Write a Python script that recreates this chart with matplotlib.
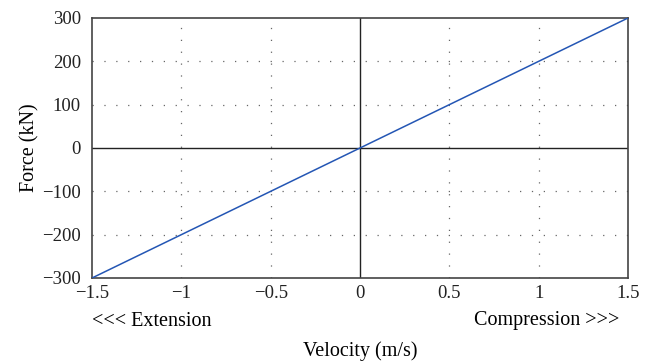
import matplotlib
matplotlib.use("Agg")
import matplotlib.pyplot as plt

# --- Data ---
velocity = [-1.5, 0.0, 1.5]      # m/s
force = [-300.0, 0.0, 300.0]     # kN
x_ticks = [-1.5, -1, -0.5, 0, 0.5, 1, 1.5]
x_labels = ["\u22121.5", "\u22121", "\u22120.5", "0", "0.5", "1", "1.5"]
y_ticks = [-300, -200, -100, 0, 100, 200, 300]
y_labels = ["\u2212300", "\u2212200", "\u2212100", "0", "100", "200", "300"]

plt.rcParams['font.family'] = ['Liberation Serif', 'DejaVu Serif']
FS = 13.5      # tick labels
LFS = 14.5     # axis / side labels

fig = plt.figure(figsize=(6.54, 3.63), dpi=100)
W, H = 654, 363
ax = fig.add_axes([92 / W, 1 - 278 / H, (628 - 92) / W, (278 - 18) / H])

# dotted grid, solid zero lines
for xv in [-1, -0.5, 0.5, 1]:
    ax.axvline(xv, color='#666666', lw=0.9, ls=(0, (1, 8.5)), zorder=1)
for yv in [-200, -100, 100, 200]:
    ax.axhline(yv, color='#666666', lw=0.9, ls=(0, (1, 8.5)), zorder=1)
ax.axvline(0, color='#222222', lw=1.0, zorder=2)
ax.axhline(0, color='#222222', lw=1.0, zorder=2)

ax.plot(velocity, force, color='#2456b4', lw=1.1, zorder=3)

ax.set_xlim(-1.5, 1.5)
ax.set_ylim(-300, 300)
ax.set_xticks(x_ticks)
ax.set_xticklabels(x_labels)
ax.set_yticks(y_ticks)
ax.set_yticklabels(y_labels)
ax.tick_params(length=0, labelsize=FS, colors='#222222')
ax.tick_params(axis='x', pad=5)
ax.tick_params(axis='y', pad=8)
for s in ax.spines.values():
    s.set_color('#444444')
    s.set_linewidth(1.2)

fig.text(30 / W, 1 - 148 / H, "Force (kN)", rotation=90, ha='center', va='center', fontsize=LFS)
fig.text(360 / W, 1 - 351 / H, "Velocity (m/s)", ha='center', va='center', fontsize=LFS)
fig.text(92 / W, 1 - 321 / H, "<<< Extension", ha='left', va='center', fontsize=LFS)
fig.text(619 / W, 1 - 321 / H, "Compression >>>", ha='right', va='center', fontsize=LFS)

fig.savefig("out.png", dpi=100)
